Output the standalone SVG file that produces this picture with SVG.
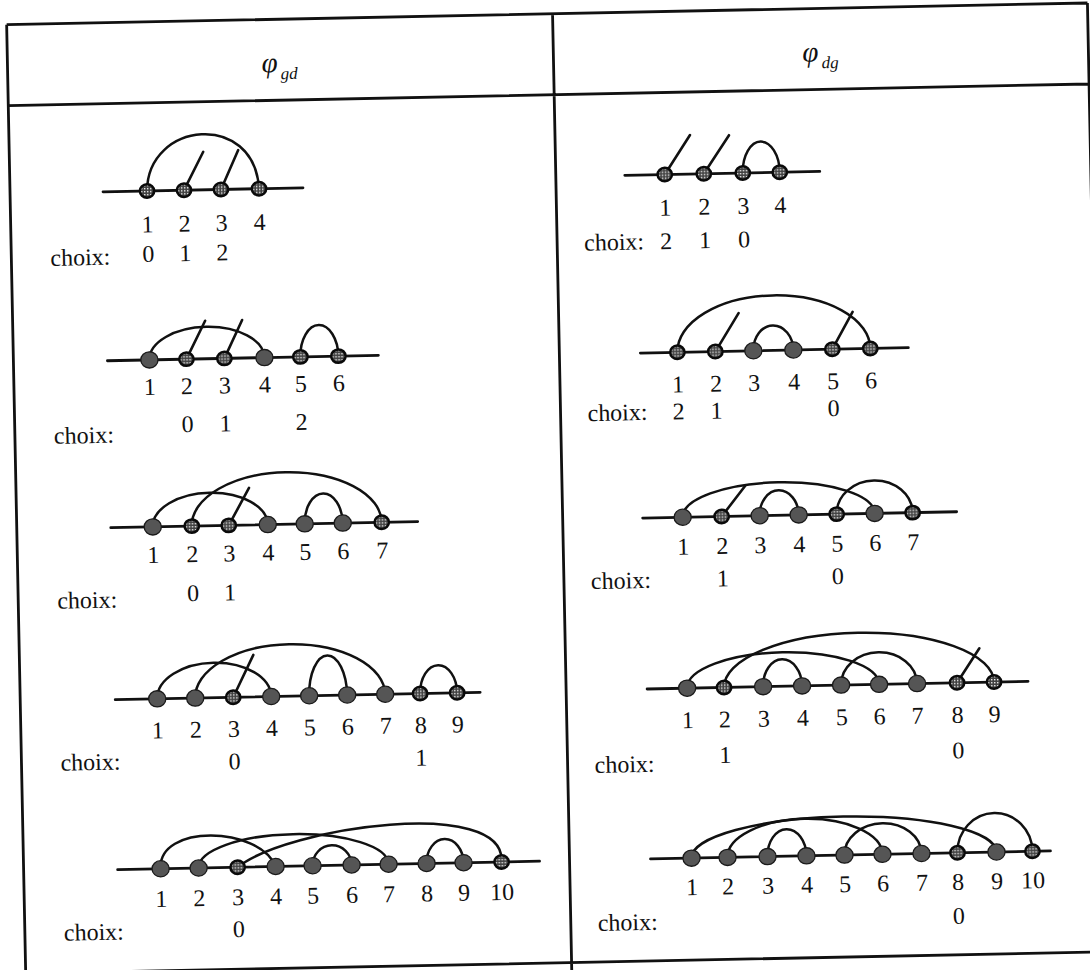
<svg xmlns="http://www.w3.org/2000/svg" xmlns:xlink="http://www.w3.org/1999/xlink" width="1090" height="970" viewBox="0 0 1090 970">
  <defs>
    <pattern id="dots" width="3" height="3" patternUnits="userSpaceOnUse">
      <rect width="3" height="3" fill="#404040"/>
      <rect width="1.4" height="1.4" fill="#f0f0f0"/>
    </pattern>
    <ellipse id="f" rx="8.6" ry="8.1" class="full"/>
    <ellipse id="h" rx="7.2" ry="6.7" class="hat"/>
    <style>
      .ln{stroke:#111;stroke-width:2.8;fill:none;stroke-linecap:round}
      .arc{stroke:#111;stroke-width:2.5;fill:none}
      .stub{stroke:#111;stroke-width:2.6;stroke-linecap:round}
      .full{fill:#555;stroke:#1a1a1a;stroke-width:1.3}
      .hat{fill:url(#dots);stroke:#0a0a0a;stroke-width:2.5}
      .rule{stroke:#111;stroke-width:2.8;fill:none}
      text{font-family:"Liberation Serif","Times New Roman",serif;font-size:24px;fill:#111}
      .num{text-anchor:middle}
      .phi{font-style:italic;font-size:29px}
      .sub{font-style:italic;font-size:17px}
    </style>
  </defs>
  <rect width="1090" height="970" fill="#fff"/>

  <!-- the whole sheet sits slightly askew -->
  <g transform="rotate(-1.15 545 485)">

    <!-- table frame -->
    <g id="frame" class="rule">
      <path d="M16 14 H1097 M16 95 H1097 M16 14 V975 M1097 14 V975 M562 14 V975 M16 963 H1097"/>
    </g>
    <g id="head">
      <text x="270" y="67"><tspan class="phi">φ</tspan><tspan class="sub" dx="3" dy="7">gd</tspan></text>
      <text x="811" y="67"><tspan class="phi">φ</tspan><tspan class="sub" dx="3" dy="7">dg</tspan></text>
    </g>

    <!-- ===== left column : phi_gd ===== -->
    <g id="gd1">
      <g class="links">
        <path class="ln" d="M109 183 H309"/>
        <path class="arc" d="M153 183 C155 113 262 105 265 183"/>
        <path class="stub" d="M190 183 L210 145 M227 183 L245 144"/>
      </g>
      <g id="gd1-n1"><use xlink:href="#h" x="153" y="183"/><text class="num" x="153" y="224.5">1</text></g>
      <g id="gd1-n2"><use xlink:href="#h" x="190" y="183"/><text class="num" x="190" y="224.5">2</text></g>
      <g id="gd1-n3"><use xlink:href="#h" x="227" y="183"/><text class="num" x="227" y="224.5">3</text></g>
      <g id="gd1-n4"><use xlink:href="#h" x="265" y="183"/><text class="num" x="265" y="224.5">4</text></g>
      <text x="55" y="256">choix:</text>
      <text class="num" x="153" y="254">0</text><text class="num" x="190" y="254">1</text><text class="num" x="227" y="254">2</text>
    </g>

    <g id="gd2">
      <g class="links">
        <path class="ln" d="M110 352 H381"/>
        <path class="arc" d="M152 352 A57.5 32 0 0 1 267 352"/>
        <path class="arc" d="M303 352 A19 31.5 0 0 1 341 352"/>
        <path class="stub" d="M189 352 L208.5 314 M227 352 L245.5 314"/>
      </g>
      <g id="gd2-n1"><use xlink:href="#f" x="152" y="352"/><text class="num" x="152" y="387">1</text></g>
      <g id="gd2-n2"><use xlink:href="#h" x="189" y="352"/><text class="num" x="189" y="387">2</text></g>
      <g id="gd2-n3"><use xlink:href="#h" x="227" y="352"/><text class="num" x="227" y="387">3</text></g>
      <g id="gd2-n4"><use xlink:href="#f" x="267" y="352"/><text class="num" x="267" y="387">4</text></g>
      <g id="gd2-n5"><use xlink:href="#h" x="303" y="352"/><text class="num" x="303" y="387">5</text></g>
      <g id="gd2-n6"><use xlink:href="#h" x="341" y="352"/><text class="num" x="341" y="387">6</text></g>
      <text x="55" y="434">choix:</text>
      <text class="num" x="189" y="425">0</text><text class="num" x="227" y="425">1</text><text class="num" x="303" y="425">2</text>
    </g>

    <g id="gd3">
      <g class="links">
        <path class="ln" d="M110 519 H417"/>
        <path class="arc" d="M152 519 A57.5 33 0 0 1 267 519"/>
        <path class="arc" d="M191 519 A95 52 0 0 1 381 519"/>
        <path class="arc" d="M304 519 A19 30 0 0 1 342 519"/>
        <path class="stub" d="M228 519 L249 482"/>
      </g>
      <g id="gd3-n1"><use xlink:href="#f" x="152" y="519"/><text class="num" x="152" y="555">1</text></g>
      <g id="gd3-n2"><use xlink:href="#h" x="191" y="519"/><text class="num" x="191" y="555">2</text></g>
      <g id="gd3-n3"><use xlink:href="#h" x="228" y="519"/><text class="num" x="228" y="555">3</text></g>
      <g id="gd3-n4"><use xlink:href="#f" x="267" y="519"/><text class="num" x="267" y="555">4</text></g>
      <g id="gd3-n5"><use xlink:href="#f" x="304" y="519"/><text class="num" x="304" y="555">5</text></g>
      <g id="gd3-n6"><use xlink:href="#f" x="342" y="519"/><text class="num" x="342" y="555">6</text></g>
      <g id="gd3-n7"><use xlink:href="#h" x="381" y="519"/><text class="num" x="381" y="555">7</text></g>
      <text x="55" y="599">choix:</text>
      <text class="num" x="191" y="594">0</text><text class="num" x="228" y="594">1</text>
    </g>

    <g id="gd4">
      <g class="links">
        <path class="ln" d="M111 691 H476"/>
        <path class="arc" d="M153 691 A57 35 0 0 1 267 691"/>
        <path class="arc" d="M191 691 A95 52 0 0 1 381 691"/>
        <path class="arc" d="M305 691 A19 40 0 0 1 343 691"/>
        <path class="arc" d="M416 691 A18.5 28 0 0 1 453 691"/>
        <path class="stub" d="M229 691 L250 649"/>
      </g>
      <g id="gd4-n1"><use xlink:href="#f" x="153" y="691"/><text class="num" x="153" y="730.5">1</text></g>
      <g id="gd4-n2"><use xlink:href="#f" x="191" y="691"/><text class="num" x="191" y="730.5">2</text></g>
      <g id="gd4-n3"><use xlink:href="#h" x="229" y="691"/><text class="num" x="229" y="730.5">3</text></g>
      <g id="gd4-n4"><use xlink:href="#f" x="267" y="691"/><text class="num" x="267" y="730.5">4</text></g>
      <g id="gd4-n5"><use xlink:href="#f" x="305" y="691"/><text class="num" x="305" y="730.5">5</text></g>
      <g id="gd4-n6"><use xlink:href="#f" x="343" y="691"/><text class="num" x="343" y="730.5">6</text></g>
      <g id="gd4-n7"><use xlink:href="#f" x="381" y="691"/><text class="num" x="381" y="730.5">7</text></g>
      <g id="gd4-n8"><use xlink:href="#h" x="416" y="691"/><text class="num" x="416" y="730.5">8</text></g>
      <g id="gd4-n9"><use xlink:href="#h" x="453" y="691"/><text class="num" x="453" y="730.5">9</text></g>
      <text x="55" y="761">choix:</text>
      <text class="num" x="229" y="763">0</text><text class="num" x="416" y="763">1</text>
    </g>

    <g id="gd5">
      <g class="links">
        <path class="ln" d="M110 861 H532"/>
        <path class="arc" d="M153 861 C151 816 252 820 268 861"/>
        <path class="arc" d="M191 861 A95 32 0 0 1 381 861"/>
        <path class="arc" d="M230 861 C280 822 500 795 494 861"/>
        <path class="arc" d="M305 861 A19.5 20 0 0 1 344 861"/>
        <path class="arc" d="M419 861 A18.5 24 0 0 1 456 861"/>
      </g>
      <g id="gd5-n1"><use xlink:href="#f" x="153" y="861"/><text class="num" x="153" y="899">1</text></g>
      <g id="gd5-n2"><use xlink:href="#f" x="191" y="861"/><text class="num" x="191" y="899">2</text></g>
      <g id="gd5-n3"><use xlink:href="#h" x="230" y="861"/><text class="num" x="230" y="899">3</text></g>
      <g id="gd5-n4"><use xlink:href="#f" x="268" y="861"/><text class="num" x="268" y="899">4</text></g>
      <g id="gd5-n5"><use xlink:href="#f" x="305" y="861"/><text class="num" x="305" y="899">5</text></g>
      <g id="gd5-n6"><use xlink:href="#f" x="344" y="861"/><text class="num" x="344" y="899">6</text></g>
      <g id="gd5-n7"><use xlink:href="#f" x="381" y="861"/><text class="num" x="381" y="899">7</text></g>
      <g id="gd5-n8"><use xlink:href="#f" x="419" y="861"/><text class="num" x="419" y="899">8</text></g>
      <g id="gd5-n9"><use xlink:href="#f" x="456" y="861"/><text class="num" x="456" y="899">9</text></g>
      <g id="gd5-n10"><use xlink:href="#h" x="494" y="861"/><text class="num" x="494" y="899">10</text></g>
      <text x="55" y="931">choix:</text>
      <text class="num" x="230" y="931">0</text>
    </g>

    <!-- ===== right column : phi_dg ===== -->
    <g id="dg1">
      <g class="links">
        <path class="ln" d="M631 177 H826"/>
        <path class="arc" d="M749 177 A18.5 31 0 0 1 786 177"/>
        <path class="stub" d="M671 177 L697 138 M710 177 L736 139"/>
      </g>
      <g id="dg1-n1"><use xlink:href="#h" x="671" y="177"/><text class="num" x="671" y="218">1</text></g>
      <g id="dg1-n2"><use xlink:href="#h" x="710" y="177"/><text class="num" x="710" y="218">2</text></g>
      <g id="dg1-n3"><use xlink:href="#h" x="749" y="177"/><text class="num" x="749" y="218">3</text></g>
      <g id="dg1-n4"><use xlink:href="#h" x="786" y="177"/><text class="num" x="786" y="218">4</text></g>
      <text x="589" y="251.5">choix:</text>
      <text class="num" x="671" y="251.5">2</text><text class="num" x="710" y="251.5">1</text><text class="num" x="749" y="251.5">0</text>
    </g>

    <g id="dg2">
      <g class="links">
        <path class="ln" d="M643 355 H911"/>
        <path class="arc" d="M680 355 A96.5 55 0 0 1 873 355"/>
        <path class="arc" d="M756 355 A20 25 0 0 1 796 355"/>
        <path class="stub" d="M718 355 L742 317 M835 355 L856 318"/>
      </g>
      <g id="dg2-n1"><use xlink:href="#h" x="680" y="355"/><text class="num" x="680" y="395">1</text></g>
      <g id="dg2-n2"><use xlink:href="#h" x="718" y="355"/><text class="num" x="718" y="395">2</text></g>
      <g id="dg2-n3"><use xlink:href="#f" x="756" y="355"/><text class="num" x="756" y="395">3</text></g>
      <g id="dg2-n4"><use xlink:href="#f" x="796" y="355"/><text class="num" x="796" y="395">4</text></g>
      <g id="dg2-n5"><use xlink:href="#h" x="835" y="355"/><text class="num" x="835" y="395">5</text></g>
      <g id="dg2-n6"><use xlink:href="#h" x="873" y="355"/><text class="num" x="873" y="395">6</text></g>
      <text x="589" y="422">choix:</text>
      <text class="num" x="680" y="422">2</text><text class="num" x="718" y="422">1</text><text class="num" x="835" y="422">0</text>
    </g>

    <g id="dg3">
      <g class="links">
        <path class="ln" d="M642 520 H956"/>
        <path class="arc" d="M682 520 A96 33 0 0 1 874 520"/>
        <path class="arc" d="M759 520 A19.5 25 0 0 1 798 520"/>
        <path class="arc" d="M836 520 A38 33 0 0 1 912 520"/>
        <path class="stub" d="M721 520 L745 490"/>
      </g>
      <g id="dg3-n1"><use xlink:href="#f" x="682" y="520"/><text class="num" x="682" y="557.5">1</text></g>
      <g id="dg3-n2"><use xlink:href="#h" x="721" y="520"/><text class="num" x="721" y="557.5">2</text></g>
      <g id="dg3-n3"><use xlink:href="#f" x="759" y="520"/><text class="num" x="759" y="557.5">3</text></g>
      <g id="dg3-n4"><use xlink:href="#f" x="798" y="520"/><text class="num" x="798" y="557.5">4</text></g>
      <g id="dg3-n5"><use xlink:href="#h" x="836" y="520"/><text class="num" x="836" y="557.5">5</text></g>
      <g id="dg3-n6"><use xlink:href="#f" x="874" y="520"/><text class="num" x="874" y="557.5">6</text></g>
      <g id="dg3-n7"><use xlink:href="#h" x="912" y="520"/><text class="num" x="912" y="557.5">7</text></g>
      <text x="589" y="590">choix:</text>
      <text class="num" x="721" y="590">1</text><text class="num" x="836" y="590">0</text>
    </g>

    <g id="dg4">
      <g class="links">
        <path class="ln" d="M643 691 H1024"/>
        <path class="arc" d="M683 691 A96 34 0 0 1 875 691"/>
        <path class="arc" d="M720 691 A135 52 0 0 1 990 691"/>
        <path class="arc" d="M759 691 A19.5 27 0 0 1 798 691"/>
        <path class="arc" d="M837 691 A38 32 0 0 1 913 691"/>
        <path class="stub" d="M953 691 L976 657"/>
      </g>
      <g id="dg4-n1"><use xlink:href="#f" x="683" y="691"/><text class="num" x="683" y="731">1</text></g>
      <g id="dg4-n2"><use xlink:href="#h" x="720" y="691"/><text class="num" x="720" y="731">2</text></g>
      <g id="dg4-n3"><use xlink:href="#f" x="759" y="691"/><text class="num" x="759" y="731">3</text></g>
      <g id="dg4-n4"><use xlink:href="#f" x="798" y="691"/><text class="num" x="798" y="731">4</text></g>
      <g id="dg4-n5"><use xlink:href="#f" x="837" y="691"/><text class="num" x="837" y="731">5</text></g>
      <g id="dg4-n6"><use xlink:href="#f" x="875" y="691"/><text class="num" x="875" y="731">6</text></g>
      <g id="dg4-n7"><use xlink:href="#f" x="913" y="691"/><text class="num" x="913" y="731">7</text></g>
      <g id="dg4-n8"><use xlink:href="#h" x="953" y="691"/><text class="num" x="953" y="731">8</text></g>
      <g id="dg4-n9"><use xlink:href="#h" x="990" y="691"/><text class="num" x="990" y="731">9</text></g>
      <text x="589" y="774">choix:</text>
      <text class="num" x="720" y="766.5">1</text><text class="num" x="953" y="766.5">0</text>
    </g>

    <g id="dg5">
      <g class="links">
        <path class="ln" d="M643 861 H1043"/>
        <path class="arc" d="M684 861 A152.5 38.5 0 0 1 989 861"/>
        <path class="arc" d="M720 861 A77.5 37 0 0 1 875 861"/>
        <path class="arc" d="M760 861 A19.5 27 0 0 1 799 861"/>
        <path class="arc" d="M837 861 A38.5 31 0 0 1 914 861"/>
        <path class="arc" d="M950 861 A37.5 39 0 0 1 1025 861"/>
      </g>
      <g id="dg5-n1"><use xlink:href="#f" x="684" y="861"/><text class="num" x="684" y="898">1</text></g>
      <g id="dg5-n2"><use xlink:href="#f" x="720" y="861"/><text class="num" x="720" y="898">2</text></g>
      <g id="dg5-n3"><use xlink:href="#f" x="760" y="861"/><text class="num" x="760" y="898">3</text></g>
      <g id="dg5-n4"><use xlink:href="#f" x="799" y="861"/><text class="num" x="799" y="898">4</text></g>
      <g id="dg5-n5"><use xlink:href="#f" x="837" y="861"/><text class="num" x="837" y="898">5</text></g>
      <g id="dg5-n6"><use xlink:href="#f" x="875" y="861"/><text class="num" x="875" y="898">6</text></g>
      <g id="dg5-n7"><use xlink:href="#f" x="914" y="861"/><text class="num" x="914" y="898">7</text></g>
      <g id="dg5-n8"><use xlink:href="#h" x="950" y="861"/><text class="num" x="950" y="898">8</text></g>
      <g id="dg5-n9"><use xlink:href="#f" x="989" y="861"/><text class="num" x="989" y="898">9</text></g>
      <g id="dg5-n10"><use xlink:href="#h" x="1025" y="861"/><text class="num" x="1025" y="898">10</text></g>
      <text x="589" y="932">choix:</text>
      <text class="num" x="950" y="932">0</text>
    </g>
  </g>
</svg>
